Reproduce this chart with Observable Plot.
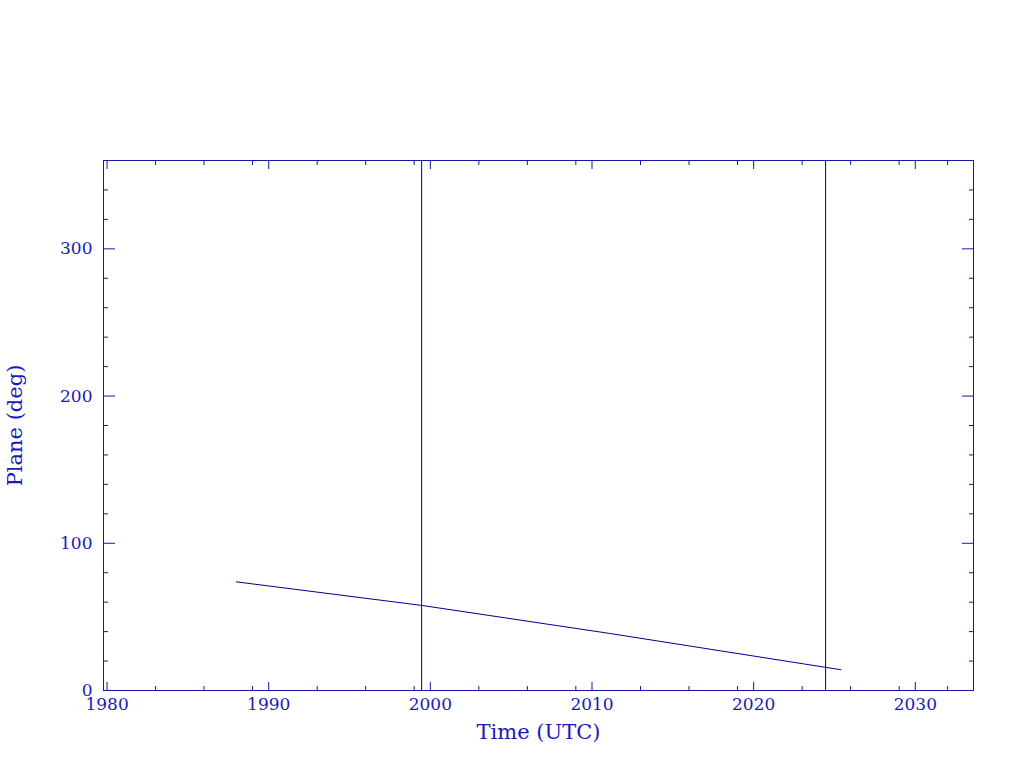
<!DOCTYPE html>
<html>
<head>
<meta charset="utf-8">
<script src="https://cdn.jsdelivr.net/npm/d3@7"></script>
<script src="https://cdn.jsdelivr.net/npm/@observablehq/plot@0.6"></script>
<style>
  html, body { margin: 0; padding: 0; background: #ffffff; }
  #chart { width: 1024px; height: 768px; }
  svg { font-family: "DejaVu Serif", serif; }
</style>
</head>
<body>
<div id="chart"></div>
<script>
// ---- data ----
const lineYears  = [1988.0, 1999.46, 2011.07, 2025.4];
const lineValues = [73.8, 57.8, 38.8, 14.1];
const markerYears = [1999.46, 2024.45];
const xMajorTicks = [1980, 1990, 2000, 2010, 2020, 2030];
const xMinorTicks = [1983, 1986, 1989, 1993, 1996, 1999, 2003, 2006, 2009, 2013, 2016, 2019, 2023, 2026, 2029, 2032];
const yMajorTicks = [0, 100, 200, 300];
const yMinorTicks = [20, 40, 60, 80, 120, 140, 160, 180, 220, 240, 260, 280, 320, 340];
const xLabel = "Time (UTC)";
const yLabel = "Plane (deg)";

const axisColor = "#1616a8";
const textColor = "#1a1ab8";
const lineColor = "#00008a";

const series = lineYears.map((t, i) => ({t, v: lineValues[i]}));
const markers = markerYears.map(t => ({t}));
const blank = () => "";

const chart = Plot.plot({
  width: 1024,
  height: 768,
  marginLeft: 103,
  marginRight: 51,
  marginTop: 160,
  marginBottom: 78,
  style: {background: "#ffffff", color: axisColor, fontFamily: "DejaVu Serif, serif"},
  x: {type: "linear", domain: [1979.78, 2033.6]},
  y: {type: "linear", domain: [0, 360]},
  marks: [
    Plot.frame({stroke: axisColor, strokeWidth: 1}),
    // bottom axis
    Plot.axisX({anchor: "bottom", ticks: xMajorTicks, tickSize: -8, tickPadding: 15, tickFormat: d => String(d), label: null, fontSize: 17, stroke: axisColor, fill: textColor}),
    Plot.axisX({anchor: "bottom", ticks: xMinorTicks, tickSize: -4, tickFormat: blank, label: null, stroke: axisColor}),
    // top axis
    Plot.axisX({anchor: "top", ticks: xMajorTicks, tickSize: -8, tickFormat: blank, label: null, stroke: axisColor}),
    Plot.axisX({anchor: "top", ticks: xMinorTicks, tickSize: -4, tickFormat: blank, label: null, stroke: axisColor}),
    // left axis
    Plot.axisY({anchor: "left", ticks: yMajorTicks, tickSize: -12, tickPadding: 23, tickFormat: d => String(d), label: null, fontSize: 17, stroke: axisColor, fill: textColor}),
    Plot.axisY({anchor: "left", ticks: yMinorTicks, tickSize: -5, tickFormat: blank, label: null, stroke: axisColor}),
    // right axis
    Plot.axisY({anchor: "right", ticks: yMajorTicks, tickSize: -12, tickFormat: blank, label: null, stroke: axisColor}),
    Plot.axisY({anchor: "right", ticks: yMinorTicks, tickSize: -5, tickFormat: blank, label: null, stroke: axisColor}),
    // data
    Plot.ruleX(markers, {x: "t", stroke: lineColor, strokeWidth: 1}),
    Plot.line(series, {x: "t", y: "v", stroke: lineColor, strokeWidth: 1}),
    // axis titles
    Plot.text([xLabel], {frameAnchor: "bottom", dy: 42, text: d => d, fill: textColor, fontSize: 21, lineAnchor: "middle", textAnchor: "middle"}),
    Plot.text([yLabel], {frameAnchor: "left", dx: -88, rotate: -90, text: d => d, fill: textColor, fontSize: 21, lineAnchor: "middle", textAnchor: "middle"})
  ]
});
document.getElementById("chart").appendChild(chart);
</script>
</body>
</html>
